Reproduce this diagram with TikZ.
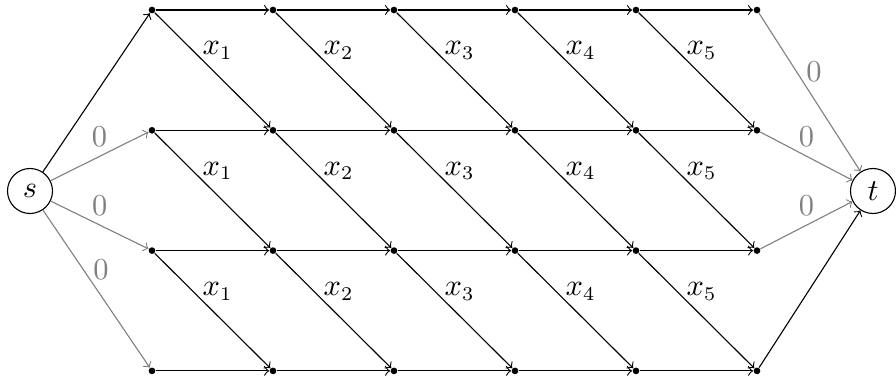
\documentclass[tikz,border=0pt]{standalone}
\begin{document}
\begin{tikzpicture}[x=0.36pt,y=-0.36pt,
  font=\fontsize{10.5}{12}\selectfont,
  dot/.style={circle,fill=black,inner sep=0pt,minimum size=2.4pt},
  term/.style={circle,draw,inner sep=0pt,minimum size=16.2pt},
  edge/.style={->,line width=0.4pt},
  gedge/.style={->,gray,line width=0.4pt},
  lab/.style={text=gray}]
\useasboundingbox (0,0) rectangle (896,379);
\node[term] (s) at (30,191) {$s$};
\node[term] (t) at (873,191) {$t$};
\foreach \i in {0,...,5}
  \foreach \j in {0,...,3}
    \node[dot] (n\i\j) at ({152+121*\i},{10+120.3*\j}) {};
% horizontal edges
\foreach \i in {0,...,4}
  \foreach \j in {0,...,3}{
    \pgfmathtruncatemacro{\ni}{\i+1}
    \draw[edge] (n\i\j) -- (n\ni\j);
  }
% diagonal edges
\foreach \i in {0,...,4}
  \foreach \j in {0,...,2}{
    \pgfmathtruncatemacro{\ni}{\i+1}
    \pgfmathtruncatemacro{\nj}{\j+1}
    \draw[edge] (n\i\j) -- node[pos=0.33,right] {$x_{\ni}$} (n\ni\nj);
  }
% source edges
\draw[edge] (s) -- (n00);
\draw[gedge] (s) -- node[lab,midway,above] {$0$} (n01);
\draw[gedge] (s) -- node[lab,midway,above] {$0$} (n02);
\draw[gedge] (s) -- node[lab,pos=0.38,right] {$0$} (n03);
% sink edges
\draw[gedge] (n50) -- node[lab,pos=0.37,right] {$0$} (t);
\draw[gedge] (n51) -- node[lab,midway,above] {$0$} (t);
\draw[gedge] (n52) -- node[lab,midway,above] {$0$} (t);
\draw[edge] (n53) -- (t);
\end{tikzpicture}
\end{document}
